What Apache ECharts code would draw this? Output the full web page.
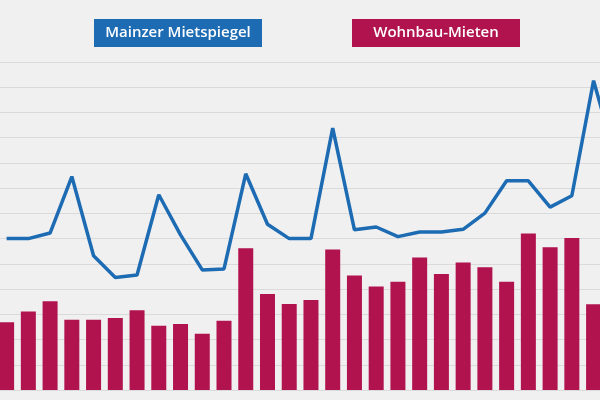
<!DOCTYPE html>
<html><head><meta charset="utf-8">
<script src="https://cdn.jsdelivr.net/npm/echarts@6/dist/echarts.min.js"></script>
<style>html,body{margin:0;padding:0;background:#f0f0f0}#c{width:600px;height:400px}</style>
</head><body><div id="c"></div>
<script>
const categories = Array.from({length:29},(_,i)=>i);
const mietspiegel = [6.0,6.0,6.22,8.46,5.32,4.46,4.56,7.74,6.15,4.76,4.8,8.57,6.57,6.0,6.0,10.38,6.35,6.46,6.08,6.26,6.26,6.37,7.01,8.29,8.29,7.25,7.7,12.26,9.2];
const wohnbau = [2.69,3.11,3.52,2.78,2.78,2.85,3.16,2.55,2.62,2.23,2.74,5.62,3.8,3.41,3.57,5.57,4.54,4.1,4.29,5.25,4.6,5.05,4.87,4.29,6.2,5.66,6.02,3.4,null];
const legendNames = ['Mainzer Mietspiegel','Wohnbau-Mieten'];
const blue='#1d6bb3', red='#b1134f';
const chart = echarts.init(document.getElementById('c'));
chart.setOption({
  backgroundColor:'#f0f0f0',
  animation:false,
  grid:{left:0,right:0,top:62,bottom:10,containLabel:false},
  xAxis:{type:'value',min:-0.304,max:27.295,show:false,splitLine:{show:false}},
  yAxis:{type:'value',min:0,max:13,interval:1,axisLabel:{show:false},axisLine:{show:false},axisTick:{show:false},
    splitLine:{lineStyle:{color:'#dadada',width:1}}},
  graphic:[
    {type:'rect',left:94,top:19,shape:{width:168,height:28},style:{fill:blue}},
    {type:'text',x:178,y:33,style:{text:legendNames[0],fill:'#fff',font:'600 15px "Open Sans"',textAlign:'center',textVerticalAlign:'middle'}},
    {type:'rect',left:352,top:19,shape:{width:168,height:28},style:{fill:red}},
    {type:'text',x:436,y:33,style:{text:legendNames[1],fill:'#fff',font:'600 15px "Open Sans"',textAlign:'center',textVerticalAlign:'middle'}}
  ],
  series:[
    {type:'bar',data:categories.map(i=>[i,wohnbau[i]]),barWidth:15,itemStyle:{color:red},clip:false},
    {type:'line',data:categories.map(i=>[i,mietspiegel[i]]),symbol:'none',lineStyle:{color:blue,width:3.5},z:3,clip:true}
  ]
});
</script></body></html>
